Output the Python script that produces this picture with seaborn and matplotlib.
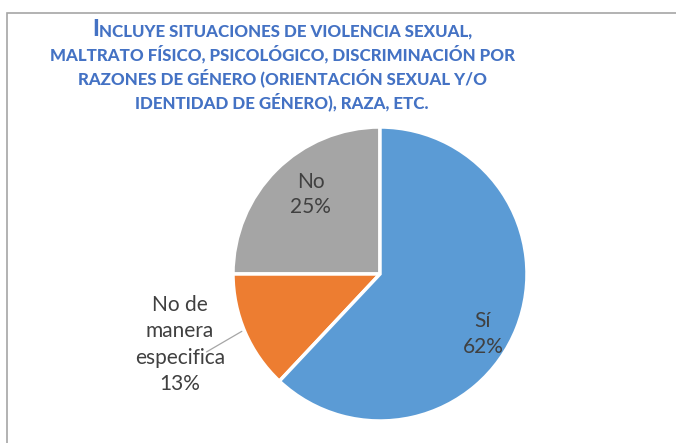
import matplotlib
matplotlib.use("Agg")
import matplotlib.pyplot as plt
from matplotlib.patches import Rectangle
from matplotlib.offsetbox import TextArea, HPacker, AnnotationBbox
import seaborn as sns

# data
categories = ["No", "No de\nmanera\nespecifica", "Sí"]
values = [25, 13, 62]
colors = ["#A5A5A5", "#ED7D31", "#5B9BD5"]
title_lines = [
    "INCLUYE SITUACIONES DE VIOLENCIA SEXUAL,",
    "MALTRATO FÍSICO, PSICOLÓGICO, DISCRIMINACIÓN POR",
    "RAZONES DE GÉNERO (ORIENTACIÓN SEXUAL Y/O",
    "IDENTIDAD DE GÉNERO), RAZA, ETC.",
]

sns.set_theme(style="white")
plt.rcParams['font.family'] = ['Lato', 'DejaVu Sans']

W, H = 676, 443
fig = plt.figure(figsize=(W / 100, H / 100), dpi=100)

# chart border (cropped on right/bottom)
fig.patches.append(Rectangle((7 / W, -0.1), 1.2, (H - 13) / H + 0.1,
                             transform=fig.transFigure, fill=False,
                             edgecolor="#A6A6A6", linewidth=1.2))

# pie
cx, cy, r = 380, 274, 147
ax = fig.add_axes([(cx - r) / W, (H - cy - r) / H, 2 * r / W, 2 * r / H])
wedges, _ = ax.pie(values, colors=colors, startangle=90, counterclock=True,
                   wedgeprops=dict(edgecolor="white", linewidth=2.5))
ax.set_xlim(-1, 1)
ax.set_ylim(-1, 1)
ax.set_aspect("equal")
ax.axis("off")

txt = "#404040"
fs = 15
labels = [f"{c}\n{v}%" for c, v in zip(categories, values)]
ax.text(-0.47, 0.54, labels[0], ha="center", va="center", color=txt,
        fontsize=fs, linespacing=1.35)
ax.text(0.70, -0.41, labels[2], ha="center", va="center", color=txt,
        fontsize=fs, linespacing=1.35)
ax.text(-1.36, -0.48, labels[1], ha="center", va="center", color=txt,
        fontsize=fs, linespacing=1.4)
ax.plot([-0.94, -1.18], [-0.39, -0.53], color="#A6A6A6", linewidth=0.9,
        clip_on=False)

# title in small caps
title_color = "#4472C4"
tx = 282 / W
ys = [30, 54, 78, 102]
small = dict(color=title_color, fontsize=12.2, fontweight="black")
for i, (line, y) in enumerate(zip(title_lines, ys)):
    if i == 0:
        parts = [TextArea(line[0], textprops=dict(color=title_color, fontsize=16,
                                                    fontweight="black")),
                 TextArea(line[1:], textprops=small)]
        box = HPacker(children=parts, align="baseline", pad=0, sep=0)
        ab = AnnotationBbox(box, (tx, 1 - y / H), xycoords="figure fraction",
                            frameon=False, box_alignment=(0.5, 0.5))
        fig.add_artist(ab)
    else:
        fig.text(tx, 1 - y / H, line, ha="center", va="center", **small)

fig.savefig("out.png", dpi=100)
